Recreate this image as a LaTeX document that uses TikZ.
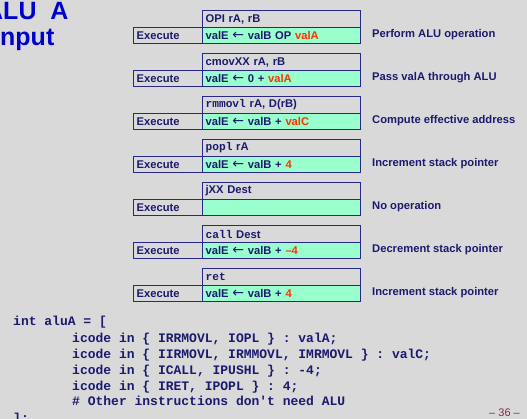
\documentclass[tikz,border=0pt]{standalone}
\usepackage{fontspec}
\setmainfont{Liberation Sans}
\setmonofont{Liberation Mono}
\newfontfamily\arrowfont{DejaVu Sans}
\definecolor{bgc}{RGB}{217,217,217}
\definecolor{txtc}{RGB}{26,26,110}
\definecolor{boxc}{RGB}{40,40,140}
\definecolor{fillc}{RGB}{153,255,204}
\definecolor{redc}{RGB}{255,51,0}
\definecolor{titlec}{RGB}{0,0,204}
\definecolor{pagec}{RGB}{140,32,80}
\newcommand\lar{{\arrowfont\mdseries\fontsize{14}{13}\selectfont ←}}
\newcommand\hl[1]{\textcolor{redc}{#1}}
\begin{document}
\begin{tikzpicture}[x=1pt,y=-1pt,
  every node/.style={text=txtc,font=\fontsize{11.2}{13}\selectfont\bfseries},
  cell/.style={draw=boxc,line width=1.2pt,rectangle,anchor=north west,inner xsep=3pt,inner ysep=0pt,align=left},
  instrbox/.style={cell,text width=152pt,minimum height=17pt},
  opbox/.style={cell,fill=fillc,text width=152pt,minimum height=16pt},
  execbox/.style={cell,text width=63pt,minimum height=16pt},
  desc/.style={anchor=west,inner sep=0pt},
  code/.style={anchor=base west,inner sep=0pt,font=\fontsize{13}{16}\selectfont\ttfamily\bfseries},
  title/.style={anchor=base west,inner sep=0pt,text=titlec,font=\fontsize{25}{28}\selectfont\bfseries}]
\fill[bgc] (0,0) rectangle (527,419);
\useasboundingbox (0,0) rectangle (527,419);
\clip (0,0) rectangle (527,419);
% title
\node[title] (t1) at (-15,20) {ALU\hspace{7pt} A};
\node[title] (t2) at (0,46) {nput};
% row 0
\node[instrbox] (i0) at (202,10) {OPI rA, rB};
\node[execbox] (e0) at (133,27) {Execute};
\node[opbox] (o0) at (202,27) {valE \lar{} valB OP \hl{valA}};
\node[desc] (d0) at (372,35) {Perform ALU operation};
% row 1
\node[instrbox] (i1) at (202,53) {cmovXX rA, rB};
\node[execbox] (e1) at (133,70) {Execute};
\node[opbox] (o1) at (202,70) {valE \lar{} 0 + \hl{valA}};
\node[desc] (d1) at (372,78) {Pass valA through ALU};
% row 2
\node[instrbox] (i2) at (202,96) {\texttt{rmmovl} rA, D(rB)};
\node[execbox] (e2) at (133,113) {Execute};
\node[opbox] (o2) at (202,113) {valE \lar{} valB + \hl{valC}};
\node[desc] (d2) at (372,121) {Compute effective address};
% row 3
\node[instrbox] (i3) at (202,139) {\texttt{popl} rA};
\node[execbox] (e3) at (133,156) {Execute};
\node[opbox] (o3) at (202,156) {valE \lar{} valB + \hl{4}};
\node[desc] (d3) at (372,164) {Increment stack pointer};
% row 4
\node[instrbox] (i4) at (202,182) {jXX Dest};
\node[execbox] (e4) at (133,199) {Execute};
\node[opbox] (o4) at (202,199) {};
\node[desc] (d4) at (372,207) {No operation};
% row 5
\node[instrbox] (i5) at (202,225) {\texttt{call} Dest};
\node[execbox] (e5) at (133,242) {Execute};
\node[opbox] (o5) at (202,242) {valE \lar{} valB + \hl{–4}};
\node[desc] (d5) at (372,250) {Decrement stack pointer};
% row 6
\node[instrbox] (i6) at (202,268) {\texttt{ret}};
\node[execbox] (e6) at (133,285) {Execute};
\node[opbox] (o6) at (202,285) {valE \lar{} valB + \hl{4}};
\node[desc] (d6) at (372,293) {Increment stack pointer};
% code
\node[code] (c0) at (13,326) {int aluA = [};
\node[code] (c1) at (72,342) {icode in \{ IRRMOVL, IOPL \} : valA;};
\node[code] (c2) at (72,358) {icode in \{ IIRMOVL, IRMMOVL, IMRMOVL \} : valC;};
\node[code] (c3) at (72,374) {icode in \{ ICALL, IPUSHL \} : -4;};
\node[code] (c4) at (72,390) {icode in \{ IRET, IPOPL \} : 4;};
\node[code] (c5) at (72,405) {\# Other instructions don't need ALU};
\node[code] (c6) at (13,422) {];};
% page number
\node[anchor=base east,inner sep=0pt,text=pagec,font=\fontsize{11}{12}\selectfont] (pg) at (520,416) {– 36 –};
\end{tikzpicture}
\end{document}
